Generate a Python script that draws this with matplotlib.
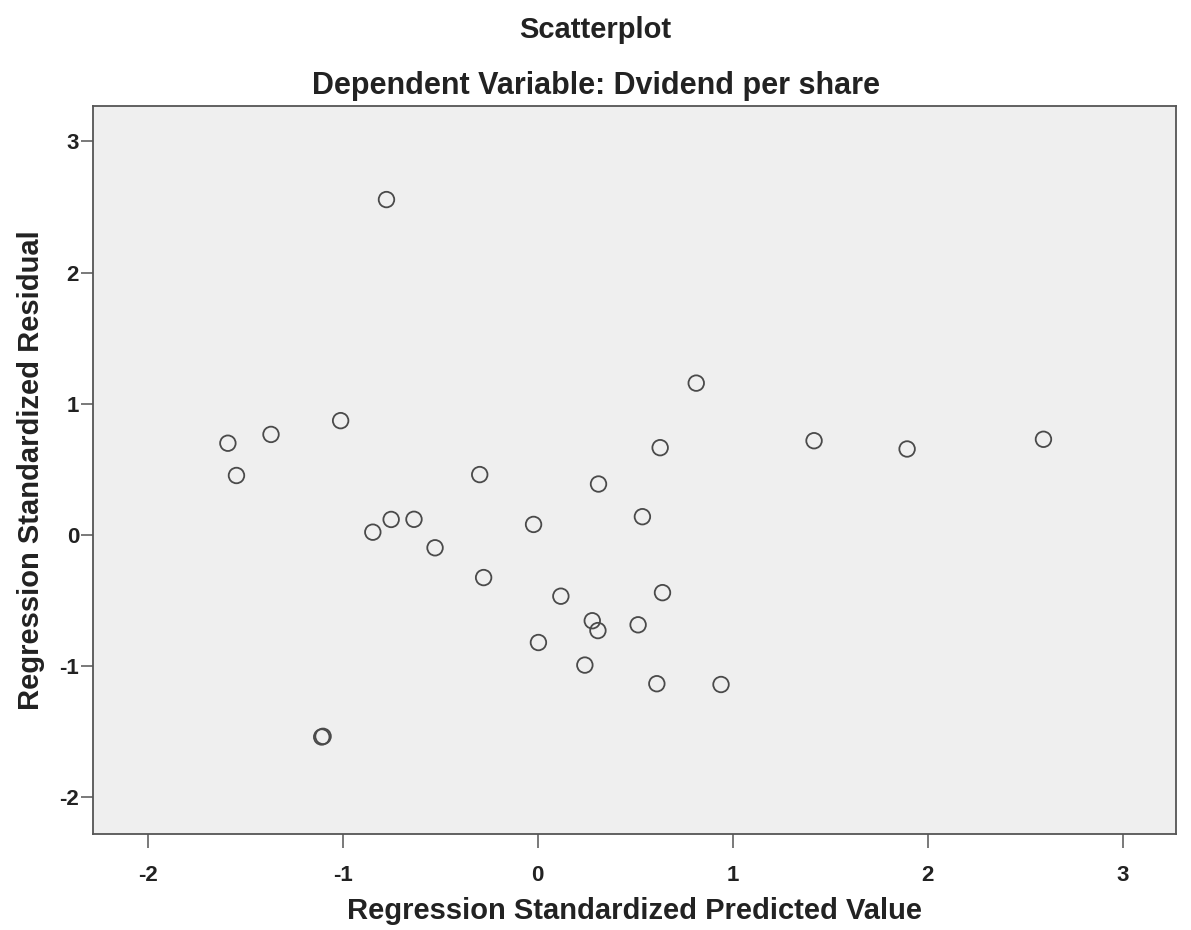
import matplotlib
matplotlib.use("Agg")
import matplotlib.pyplot as plt

# regression standardized predicted value / standardized residual
predicted = [-0.775, -1.588, -1.367, -1.010, -1.544, -0.297,
             -0.845, -0.751, -0.634, -0.526, -0.277, -1.107, -1.100,
             0.813, 0.628, 0.312, -0.021, 0.537, 0.119, 0.640,
             0.280, 0.309, 0.515, 0.004, 0.242, 0.611, 0.940,
             1.417, 1.894, 2.593]
residual = [2.557, 0.700, 0.767, 0.872, 0.454, 0.461,
            0.022, 0.119, 0.120, -0.097, -0.324, -1.539, -1.534,
            1.158, 0.666, 0.389, 0.081, 0.140, -0.466, -0.439,
            -0.653, -0.728, -0.684, -0.819, -0.991, -1.133, -1.139,
            0.719, 0.656, 0.730]

x_ticks = [-2, -1, 0, 1, 2, 3]
y_ticks = [-2, -1, 0, 1, 2, 3]

plt.rcParams['font.family'] = ['Liberation Sans', 'DejaVu Sans']

fig = plt.figure(figsize=(11.91, 9.30), dpi=100)
ax = fig.add_axes([0.078, 0.103, 0.909, 0.783])
ax.set_facecolor('#efefef')

ax.scatter(predicted, residual, s=125, facecolors='none',
           edgecolors='#4a4a4a', linewidths=1.3, zorder=3)

ax.set_xlim(-2.28, 3.27)
ax.set_ylim(-2.28, 3.27)
ax.set_xticks(x_ticks)
ax.set_yticks(y_ticks)
ax.set_xticklabels([str(t) for t in x_ticks])
ax.set_yticklabels([str(t) for t in y_ticks])
ax.tick_params(axis='x', length=10, width=1.1, color='#555555', pad=12,
               labelsize=16, labelcolor='#222222')
ax.tick_params(axis='y', length=9, width=1.1, color='#555555', pad=1,
               labelsize=16, labelcolor='#222222')
for lab in ax.get_xticklabels() + ax.get_yticklabels():
    lab.set_fontweight('bold')
for sp in ax.spines.values():
    sp.set_color('#555555')
    sp.set_linewidth(1.3)

ax.set_xlabel('Regression Standardized Predicted Value', fontsize=21,
              fontweight='bold', color='#222222', labelpad=8)
ax.set_ylabel('Regression Standardized Residual', fontsize=21,
              fontweight='bold', color='#222222', labelpad=10)

fig.text(0.5, 0.968, 'Scatterplot', ha='center', va='center',
         fontsize=21, fontweight='bold', color='#222222')
fig.text(0.5, 0.907, 'Dependent Variable: Dvidend per share', ha='center',
         va='center', fontsize=22, fontweight='bold', color='#222222')

fig.savefig('out.png', dpi=100)
